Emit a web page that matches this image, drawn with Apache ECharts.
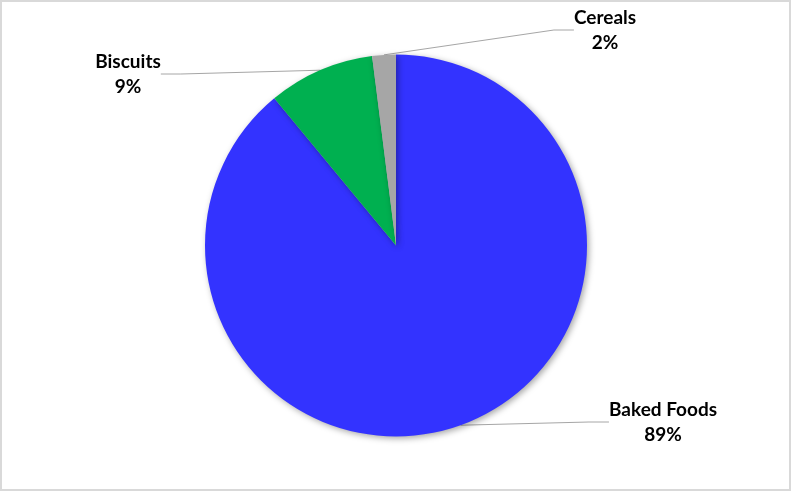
<!DOCTYPE html>
<html>
<head>
<meta charset="utf-8">
<script src="https://cdn.jsdelivr.net/npm/echarts@6/dist/echarts.min.js"></script>
<style>
html,body{margin:0;padding:0;background:#fff;}
#chart{width:791px;height:491px;}
</style>
</head>
<body>
<div id="chart"></div>
<script>
const categories = ['Baked Foods', 'Biscuits', 'Cereals'];
const values = [89, 9, 2];
const colors = ['#3333FF', '#00B050', '#A6A6A6'];

// label anchor positions (layout only)
const labelPos = [
  {x: 663, y: 422},
  {x: 128, y: 74},
  {x: 605, y: 30}
];

const chart = echarts.init(document.getElementById('chart'), null, {renderer: 'canvas'});
chart.setOption({
  backgroundColor: '#ffffff',
  animation: false,
  graphic: [{
    type: 'rect',
    shape: {x: 1, y: 1, width: 789, height: 489},
    style: {fill: 'none', stroke: '#d9d9d9', lineWidth: 2},
    z: 100
  }],
  series: [{
    type: 'pie',
    center: [396, 245.5],
    radius: 191,
    startAngle: 90,
    clockwise: true,
    data: categories.map((c, i) => ({name: c, value: values[i], itemStyle: {color: colors[i]}})),
    itemStyle: {
      shadowBlur: 6,
      shadowColor: 'rgba(0,0,0,0.35)',
      shadowOffsetX: 2,
      shadowOffsetY: 2,
      borderWidth: 0
    },
    label: {
      show: true,
      position: 'outside',
      formatter: '{b}\n{d}%',
      fontFamily: 'Lato, "Open Sans", sans-serif',
      fontWeight: 'bold',
      fontSize: 19,
      lineHeight: 25,
      color: '#000',
      align: 'center'
    },
    labelLine: {
      show: true,
      length: 20,
      length2: 20,
      lineStyle: {color: '#A6A6A6', width: 1}
    },
    labelLayout: function (params) {
      const p = labelPos[params.dataIndex];
      return {x: p.x, y: p.y, align: 'center', verticalAlign: 'middle'};
    },
    emphasis: {disabled: true}
  }]
});
</script>
</body>
</html>
